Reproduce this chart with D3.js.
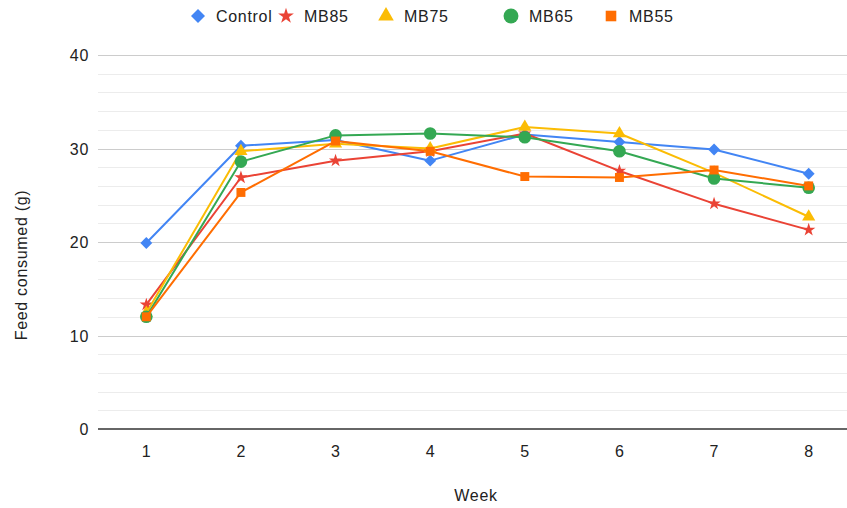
<!DOCTYPE html>
<html>
<head>
<meta charset="utf-8">
<script src="https://cdn.jsdelivr.net/npm/d3@7"></script>
<style>
  html, body { margin: 0; padding: 0; background: #fff; }
  svg { display: block; font-family: "Liberation Sans", Arial, sans-serif; }
</style>
</head>
<body>
<svg id="chart" width="847" height="508"></svg>
<script>
// Weekly feed consumption per diet group
const weeks = ["1", "2", "3", "4", "5", "6", "7", "8"];
const seriesNames = ["Control", "MB85", "MB75", "MB65", "MB55"];
const control = [19.9, 30.3, 30.9, 28.7, 31.5, 30.7, 29.9, 27.3];
const mb85    = [13.3, 26.9, 28.7, 29.7, 31.6, 27.6, 24.1, 21.3];
const mb75    = [12.4, 29.7, 30.5, 30.0, 32.3, 31.6, 27.4, 22.7];
const mb65    = [12.0, 28.6, 31.4, 31.6, 31.2, 29.7, 26.8, 25.8];
const mb55    = [12.0, 25.3, 30.8, 29.7, 27.0, 26.9, 27.7, 26.0];
const yTicks = [0, 10, 20, 30, 40];
const yTitle = "Feed consumed (g)";
const xTitle = "Week";

const colors = ["#4285F4", "#EA4335", "#FBBC04", "#34A853", "#FF6D01"];
const shapes = [d3.symbolDiamond2, d3.symbolStar, d3.symbolTriangle, d3.symbolCircle, d3.symbolSquare];
const markerSizes = [90, 55, 75, 125, 80];
const values = [control, mb85, mb75, mb65, mb55];

const FONT = 16;
const SPACING = "0.7px";
const INK = "#222";

const svg = d3.select("#chart");

const x = d3.scalePoint().domain(weeks).range([99, 856]).padding(0.5);
const y = d3.scaleLinear().domain([0, 40]).range([429, 55]);

const left = 98, right = 847;

// minor gridlines every 2 units
const minor = d3.range(0, 41, 2).filter(v => v % 10 !== 0);
svg.append("g").selectAll("line").data(minor).join("line")
  .attr("x1", left).attr("x2", right)
  .attr("y1", d => Math.round(y(d)) + 0.5).attr("y2", d => Math.round(y(d)) + 0.5)
  .attr("stroke", "#ececec").attr("stroke-width", 1);

// major gridlines
svg.append("g").selectAll("line").data(yTicks.filter(v => v > 0)).join("line")
  .attr("x1", left).attr("x2", right)
  .attr("y1", d => Math.round(y(d)) + 0.5).attr("y2", d => Math.round(y(d)) + 0.5)
  .attr("stroke", "#cccccc").attr("stroke-width", 1);

// y tick labels
svg.append("g").selectAll("text").data(yTicks).join("text")
  .attr("x", 89).attr("y", d => y(d) + 6)
  .attr("text-anchor", "end")
  .attr("font-size", FONT).attr("letter-spacing", SPACING).attr("fill", INK)
  .text(d => d);

// baseline
svg.append("line")
  .attr("x1", left).attr("x2", right)
  .attr("y1", y(0)).attr("y2", y(0))
  .attr("stroke", "#333").attr("stroke-width", 1.5);

// x tick labels
svg.append("g").selectAll("text").data(weeks).join("text")
  .attr("x", d => x(d)).attr("y", 457)
  .attr("text-anchor", "middle")
  .attr("font-size", FONT).attr("fill", INK)
  .text(d => d);

// axis titles
svg.append("text")
  .attr("x", 476).attr("y", 501)
  .attr("text-anchor", "middle")
  .attr("font-size", FONT).attr("letter-spacing", SPACING).attr("fill", INK)
  .text(xTitle);

svg.append("text")
  .attr("transform", "translate(27,265) rotate(-90)")
  .attr("text-anchor", "middle")
  .attr("font-size", FONT).attr("letter-spacing", SPACING).attr("fill", INK)
  .text(yTitle);

// series lines and markers
const line = d3.line().x((d, i) => x(weeks[i])).y(d => y(d));
values.forEach((vals, s) => {
  const g = svg.append("g");
  g.append("path")
    .attr("d", line(vals))
    .attr("fill", "none")
    .attr("stroke", colors[s])
    .attr("stroke-width", 2)
    .attr("stroke-linejoin", "round");
  g.selectAll("path.m").data(vals).join("path")
    .attr("class", "m")
    .attr("transform", (d, i) => `translate(${x(weeks[i])},${y(d)})`)
    .attr("d", d3.symbol().type(shapes[s]).size(markerSizes[s]))
    .attr("fill", colors[s]);
});

// legend
const legendX = [198, 286, 386, 511, 611];
const legend = svg.append("g");
seriesNames.forEach((name, s) => {
  legend.append("path")
    .attr("transform", `translate(${legendX[s]},16)`)
    .attr("d", d3.symbol().type(shapes[s]).size(markerSizes[s] * 1.4))
    .attr("fill", colors[s]);
  legend.append("text")
    .attr("x", legendX[s] + 18).attr("y", 22)
    .attr("font-size", FONT).attr("letter-spacing", SPACING).attr("fill", INK)
    .text(name);
});
</script>
</body>
</html>
